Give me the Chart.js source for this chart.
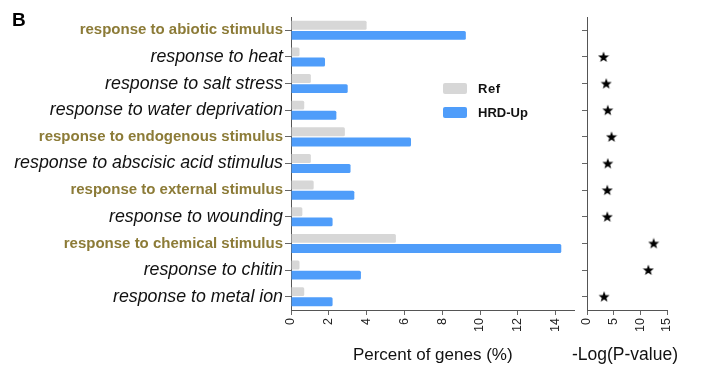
<!DOCTYPE html>
<html>
<head>
<meta charset="utf-8">
<script src="https://cdn.jsdelivr.net/npm/chart.js@4/dist/chart.umd.min.js"></script>
<style>
  html,body{margin:0;padding:0;background:#fff;}
  #wrap{position:relative;width:705px;height:380px;overflow:hidden;font-family:"Liberation Sans",Arial,sans-serif;}
  canvas{position:absolute;top:0;}
  #c1{left:0;}
  #c2{left:575px;}
  .panel{position:absolute;left:12px;top:9px;font-weight:bold;font-size:19px;color:#000;}
  .leg{position:absolute;font-weight:bold;font-size:13px;color:#111;line-height:11px;}
  .box{position:absolute;width:24px;height:11px;border-radius:2px;}
  .ttl{position:absolute;font-size:17.5px;color:#111;white-space:nowrap;line-height:20px;}
</style>
</head>
<body>
<div id="wrap">
  <canvas id="c1" width="585" height="380"></canvas>
  <canvas id="c2" width="130" height="380"></canvas>
  <div class="panel">B</div>
  <div class="box" style="left:443px;top:83px;background:#D7D7D7;"></div>
  <div class="leg" style="left:478px;top:83px;letter-spacing:0.6px;">Ref</div>
  <div class="box" style="left:443px;top:107px;background:#4F9DFA;"></div>
  <div class="leg" style="left:478px;top:107px;">HRD-Up</div>
  <div class="ttl" id="rtitle" style="left:572px;top:344px;">-Log(P-value)</div>
</div>
<script>
const categories = [
  "response to abiotic stimulus",
  "response to heat",
  "response to salt stress",
  "response to water deprivation",
  "response to endogenous stimulus",
  "response to abscisic acid stimulus",
  "response to external stimulus",
  "response to wounding",
  "response to chemical stimulus",
  "response to chitin",
  "response to metal ion"
];
const boldFlags = [true, false, false, false, true, false, true, false, true, false, false];
const refValues = [4.0, 0.45, 1.05, 0.7, 2.85, 1.05, 1.2, 0.6, 5.55, 0.45, 0.7];
const hrdValues = [9.25, 1.8, 3.0, 2.4, 6.35, 3.15, 3.35, 2.2, 14.3, 3.7, 2.2];
const logPValues = [null, 3.1, 3.6, 3.9, 4.6, 3.9, 3.8, 3.8, 12.5, 11.5, 3.2];
const percentTicks = [0, 2, 4, 6, 8, 10, 12, 14];
const logPTicks = [0, 5, 10, 15];

const FONT = '"Liberation Sans", Arial, sans-serif';
Chart.defaults.font.family = FONT;
Chart.defaults.animation = false;

// star image for point style
const star = document.createElement('canvas');
star.width = 12; star.height = 12;
(function(){
  const c = star.getContext('2d');
  c.fillStyle = '#000';
  c.beginPath();
  const cx = 6, cy = 6.4, R = 5.8, r = 2.4;
  for (let i = 0; i < 10; i++) {
    const a = -Math.PI/2 + i * Math.PI/5;
    const rad = i % 2 === 0 ? R : r;
    const x = cx + rad * Math.cos(a), y = cy + rad * Math.sin(a);
    if (i === 0) c.moveTo(x, y); else c.lineTo(x, y);
  }
  c.closePath();
  c.fill();
})();

const axisColor = '#555';
const tickMarkColor = '#666';

new Chart(document.getElementById('c1'), {
  type: 'bar',
  data: {
    labels: categories,
    datasets: [
      { label: 'Ref', data: refValues, backgroundColor: '#D7D7D7', borderRadius: 1.5, borderSkipped: 'start',
        categoryPercentage: 0.76, barPercentage: 0.88 },
      { label: 'HRD-Up', data: hrdValues, backgroundColor: '#4F9DFA', borderRadius: 1.5, borderSkipped: 'start',
        categoryPercentage: 0.76, barPercentage: 0.88 }
    ]
  },
  options: {
    responsive: false,
    devicePixelRatio: 1,
    indexAxis: 'y',
    layout: { padding: { left: 0, right: 10.5, top: 17, bottom: 0 } },
    plugins: { legend: { display: false }, tooltip: { enabled: false } },
    scales: {
      y: {
        type: 'category',
        offset: true,
        grid: { display: true, drawOnChartArea: false, drawTicks: true, tickLength: 6, offset: false, color: tickMarkColor },
        border: { display: true, color: axisColor, width: 1 },
        ticks: {
          padding: 2,
          autoSkip: false,
          color: (ctx) => boldFlags[ctx.index] ? '#8C7B37' : '#111',
          font: (ctx) => boldFlags[ctx.index]
            ? { size: 15, weight: 'bold', style: 'normal', family: FONT }
            : { size: 17.8, weight: 'normal', style: 'italic', family: FONT }
        },
        afterFit: (s) => { s.width = 291; }
      },
      x: {
        type: 'linear',
        min: 0, max: 15,
        afterBuildTicks: (s) => { s.ticks = percentTicks.map(v => ({ value: v })); },
        grid: { display: true, drawOnChartArea: false, drawTicks: true, tickLength: 5, color: tickMarkColor },
        border: { display: true, color: axisColor, width: 1 },
        ticks: { minRotation: 90, maxRotation: 90, padding: 3, color: '#222', font: { size: 12.5 } },
        title: { display: true, text: 'Percent of genes (%)', color: '#111', font: { size: 17 }, padding: { top: 0, bottom: 14 } },
        afterFit: (s) => { s.height = 70; }
      }
    }
  }
});

new Chart(document.getElementById('c2'), {
  type: 'line',
  data: {
    labels: categories,
    datasets: [
      { label: '-Log(P-value)', data: logPValues, showLine: false, pointStyle: star, pointRadius: 6, spanGaps: false }
    ]
  },
  options: {
    responsive: false,
    devicePixelRatio: 1,
    indexAxis: 'y',
    layout: { padding: { left: 0, right: 38, top: 17, bottom: 0 } },
    plugins: { legend: { display: false }, tooltip: { enabled: false } },
    scales: {
      y: {
        type: 'category',
        offset: true,
        grid: { display: true, drawOnChartArea: false, drawTicks: true, tickLength: 5, offset: false, color: tickMarkColor },
        border: { display: true, color: axisColor, width: 1 },
        ticks: { display: false, autoSkip: false },
        afterFit: (s) => { s.width = 12; }
      },
      x: {
        type: 'linear',
        min: 0, max: 15,
        afterBuildTicks: (s) => { s.ticks = logPTicks.map(v => ({ value: v })); },
        grid: { display: true, drawOnChartArea: false, drawTicks: true, tickLength: 5, color: tickMarkColor },
        border: { display: true, color: axisColor, width: 1 },
        ticks: { minRotation: 90, maxRotation: 90, padding: 3, color: '#222', font: { size: 12.5 } },
        afterFit: (s) => { s.height = 70; }
      }
    }
  }
});
</script>
</body>
</html>
